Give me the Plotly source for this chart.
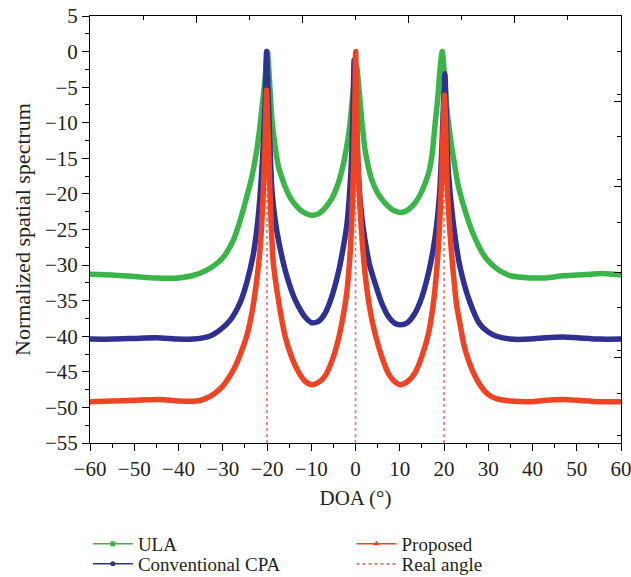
import plotly.graph_objects as go

# ---------------- data ----------------
ula_x = [-60, -55, -50, -45, -41, -37, -33.6, -31, -29.5, -27.6, -26.5, -25.4, -24.4, -23.8,
         -23.1, -22.4, -22, -21.6, -20.8, -20.4, -19.9, -19.4, -18.9, -18.2, -17.4, -16.6,
         -15.9, -14.5, -12.9, -11.4, -9.9, -8.4, -6.9, -5.4, -3.9, -3, -2, -1.4, -0.86, -0.4,
         0.27, 0.6, 1.0, 1.5, 2.15, 2.9, 3.66, 5, 6.7, 8.3, 10.06, 11.7, 13.4, 15, 16.5, 17.3,
         18.0, 18.6, 19.1, 19.6, 20.1, 20.6, 21.3, 22.1, 23.2, 24.4, 25.5, 26.5, 27.6, 28.7,
         30, 31.9, 33.5, 35, 39.4, 43, 46.9, 50, 53, 56, 60]
ula_y = [-31.3, -31.4, -31.6, -31.8, -31.85, -31.5, -30.7, -29.6, -28.6, -26.5, -24.6, -22.3,
         -20.0, -18.6, -16.6, -14.2, -12.5, -10.5, -6.0, -3.5, 0.0, -4.5, -9.5, -13.2, -16.2,
         -17.8, -19.0, -20.8, -22.0, -22.7, -23.0, -22.8, -22.0, -20.7, -18.5, -16.5, -13.4,
         -11.0, -7.7, -4.8, -2.1, -4.0, -6.8, -10.2, -13.8, -16.2, -18.0, -19.9, -21.3, -22.2,
         -22.6, -22.3, -21.3, -19.6, -17.1, -14.5, -10.1, -6.5, -2.5, 0.0, -3.5, -7.7, -11.5,
         -14.8, -18.8, -21.6, -23.8, -25.5, -27.0, -28.3, -29.4, -30.5, -31.1, -31.5, -31.8,
         -31.8, -31.5, -31.4, -31.3, -31.2, -31.4]

cpa_x = [-60, -55, -50, -45, -40, -36.7, -33, -30.6, -28.4, -26.1, -24.6, -23.1, -22.2, -21.6,
         -21.0, -20.6, -20.3, -20.1, -19.8, -19.4, -18.9, -18.2, -17.4, -15.9, -14.1, -12.9,
         -11.4, -9.9, -8.4, -6.9, -5.4, -3.9, -2.9, -2.0, -1.4, -0.86, -0.55, -0.3, 0.1, 0.64,
         1.3, 2.15, 3.2, 4.4, 5.9, 7.4, 8.7, 10.06, 11.7, 13.4, 15, 16.5, 17.5, 18.3, 19.0,
         19.5, 19.9, 20.2, 20.5, 21.0, 22.1, 23.6, 25.9, 28.1, 30, 31.9, 35, 39.4, 43, 46.9,
         50, 55, 60]
cpa_y = [-40.4, -40.4, -40.3, -40.2, -40.4, -40.4, -40.0, -39.1, -37.8, -35.3, -32.5, -28.5,
         -24.5, -20.5, -15.0, -10.0, -5.0, 0.0, -5.0, -12.0, -19.4, -23.5, -26.5, -30.7,
         -34.2, -35.8, -37.3, -38.1, -37.9, -36.8, -34.5, -31.1, -28.0, -24.6, -20.5, -14.8,
         -8.0, -1.2, -8.0, -17.0, -22.5, -26.5, -30.0, -32.5, -35.3, -37.2, -38.1, -38.4,
         -38.1, -36.8, -34.5, -31.1, -28.0, -24.6, -20.0, -13.8, -7.0, -3.1, -9.0, -17.1,
         -24.1, -30.2, -35.3, -38.3, -39.4, -40.0, -40.4, -40.4, -40.2, -40.1, -40.2, -40.4,
         -40.4]

prop_x = [-60, -55, -50, -44.2, -40, -36, -34, -32, -30, -28.5, -27, -26, -24.6, -23.5, -22.5,
          -21.6, -21.0, -20.6, -20.3, -20.1, -19.9, -19.7, -19.2, -18.6, -17.4, -15.9, -14.4,
          -12.9, -11.4, -9.9, -8.4, -6.9, -5.4, -3.9, -2.9, -2.0, -1.4, -0.86, -0.5, -0.3,
          -0.1, 0.04, 0.25, 0.5, 1.0, 1.5, 2.15, 3.2, 4.4, 5.9, 7.4, 8.7, 10.06, 11.7, 13.4,
          15, 16.5, 17.5, 18.3, 19.0, 19.5, 19.8, 20.1, 20.4, 20.6, 21.3, 22.1, 22.9, 23.6,
          24.6, 25.9, 27.0, 28.1, 29.2, 30.5, 32, 35, 39.4, 43, 46.9, 50, 55, 60]
prop_y = [-49.2, -49.1, -49.0, -48.9, -49.1, -49.1, -48.8, -48.1, -47.0, -45.7, -44.0, -42.5,
          -40.0, -37.0, -33.0, -28.0, -22.0, -16.0, -10.0, -5.4, -9.0, -12.4, -22.0, -29.5,
          -35.0, -40.0, -43.0, -45.0, -46.3, -46.8, -46.5, -45.6, -43.6, -40.5, -37.5, -34.0,
          -30.0, -24.1, -17.0, -12.4, -6.0, 0.0, -7.7, -15.0, -21.8, -26.5, -31.1, -36.0,
          -39.6, -42.8, -45.2, -46.3, -46.8, -46.4, -45.2, -42.8, -39.6, -35.8, -31.1, -24.5,
          -17.1, -11.0, -6.1, -11.0, -17.0, -25.0, -31.1, -35.8, -38.2, -41.5, -44.0, -45.6,
          -46.8, -47.7, -48.4, -48.8, -49.1, -49.2, -49.0, -48.9, -49.0, -49.2, -49.2]

real_angles = [-20, 0, 20]
real_bottom = -55
real_top = 0

series_names = ["ULA", "Conventional CPA", "Proposed", "Real angle"]
x_ticks = list(range(-60, 61, 10))
y_ticks = list(range(-55, 6, 5))

# ---------------- styling ----------------
GREEN = "#3ab54a"
BLUE = "#2e3192"
RED = "#ef4423"
REAL = "#f2705e"
FONT = "Liberation Serif"
TXT = "#231f20"

FIG_W, FIG_H = 631, 577
M_L, M_R, M_T, M_B = 90, 10, 16, 134
PLOT_BOTTOM = FIG_H - M_B
PLOT_H = FIG_H - M_T - M_B

fig = go.Figure()

# real angle dotted lines
rx, ry = [], []
for a in real_angles:
    rx += [a, a, None]
    ry += [real_bottom, real_top, None]
fig.add_trace(go.Scatter(x=rx, y=ry, mode="lines", line=dict(color=REAL, width=1.6, dash="dot"),
                         showlegend=False, hoverinfo="skip"))

for xs, ys, col in [(ula_x, ula_y, GREEN), (cpa_x, cpa_y, BLUE), (prop_x, prop_y, RED)]:
    fig.add_trace(go.Scatter(x=xs, y=ys, mode="lines",
                             line=dict(color=col, width=5.5, shape="spline", smoothing=0.7),
                             showlegend=False))

# legend-only entries, one per legend box
leg_specs = [
    (series_names[0], dict(mode="lines+markers", line=dict(color=GREEN, width=1.5),
                           marker=dict(symbol="square", size=5, color=GREEN)), "legend"),
    (series_names[1], dict(mode="lines+markers", line=dict(color=BLUE, width=1.5),
                           marker=dict(symbol="circle", size=5, color=BLUE)), "legend2"),
    (series_names[2], dict(mode="lines+markers", line=dict(color=RED, width=1.5),
                           marker=dict(symbol="triangle-up", size=6, color=RED)), "legend3"),
    (series_names[3], dict(mode="lines", line=dict(color=REAL, width=1.6, dash="dot")), "legend4"),
]
for name, kw, lg in leg_specs:
    fig.add_trace(go.Scatter(x=[None], y=[None], name=name, legend=lg, showlegend=True, **kw))

# dummy trace on overlay axes (top / right)
fig.add_trace(go.Scatter(x=[None], y=[None], xaxis="x2", yaxis="y2", showlegend=False,
                         hoverinfo="skip"))

axis_font = dict(family=FONT, size=21, color=TXT)
common = dict(showline=True, linecolor="black", linewidth=1, showgrid=False, zeroline=False,
              automargin=False)

fig.update_layout(
    width=FIG_W, height=FIG_H,
    margin=dict(l=M_L, r=M_R, t=M_T, b=M_B, autoexpand=False),
    paper_bgcolor="white", plot_bgcolor="white",
    font=dict(family=FONT, size=20, color=TXT),
    xaxis=dict(range=[-60, 60], tickmode="array", tickvals=x_ticks, ticks="outside",
               ticklen=7, tickcolor="black", tickfont=axis_font, ticklabeloverflow="allow",
               minor=dict(dtick=5, ticks="outside", ticklen=4, tickcolor="black"),
               title=dict(text="DOA (°)", font=dict(family=FONT, size=21, color=TXT), standoff=10),
               **common),
    yaxis=dict(range=[-55, 5], tickmode="array", tickvals=y_ticks, ticks="outside",
               ticklen=7, tickcolor="black", tickfont=axis_font, ticklabeloverflow="allow",
               minor=dict(dtick=2.5, ticks="outside", ticklen=4, tickcolor="black"),
               title=dict(text="Normalized spatial spectrum",
                          font=dict(family=FONT, size=22, color=TXT), standoff=8),
               **common),
    xaxis2=dict(range=[-60, 60], overlaying="x", side="top", anchor="y", tick0=-60, dtick=24,
                ticks="inside", ticklen=7, tickcolor="black", showticklabels=False,
                minor=dict(dtick=12, ticks="inside", ticklen=4, tickcolor="black"), **common),
    yaxis2=dict(range=[-55, 5], overlaying="y", side="right", anchor="x", tick0=-55, dtick=12,
                ticks="inside", ticklen=7, tickcolor="black", showticklabels=False,
                minor=dict(dtick=6, ticks="inside", ticklen=4, tickcolor="black"), **common),
)

leg_common = dict(bgcolor="rgba(0,0,0,0)", font=dict(family=FONT, size=19, color=TXT),
                  xanchor="left", yanchor="middle", itemwidth=40)
y_row1 = (PLOT_BOTTOM - 544) / PLOT_H
y_row2 = (PLOT_BOTTOM - 564) / PLOT_H
fig.update_layout(
    legend=dict(x=-0.004, y=y_row1, **leg_common),
    legend2=dict(x=-0.004, y=y_row2, **leg_common),
    legend3=dict(x=0.4925, y=y_row1, **leg_common),
    legend4=dict(x=0.4925, y=y_row2, **leg_common),
)

# remove the browser's default 8 px body margin so the figure fills the window exactly
fig.write_html("out.html", config={"displayModeBar": False},
               post_script="document.body.style.margin='0';")
